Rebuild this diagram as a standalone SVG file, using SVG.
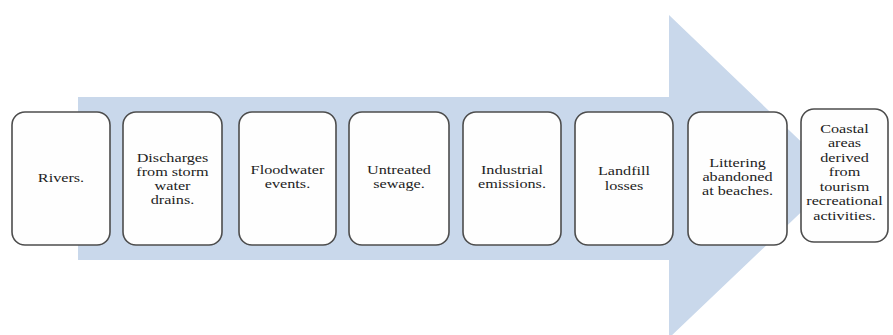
<svg xmlns="http://www.w3.org/2000/svg" width="893" height="335" viewBox="0 0 893 335">
<style>
.box{fill:#fefefe;stroke:#4d4d4d;stroke-width:1.6}
.t{font-family:'Liberation Serif','Times New Roman',serif;font-size:12px;fill:#222222;text-anchor:middle}
</style>
<rect width="893" height="335" fill="#ffffff"/>
<g id="arrow">
<polygon points="78,97 669,97 669,15 838,177 669,338 669,260 78,260" fill="#c9d8eb"/>
</g>
<g id="connectors"></g>
<g id="n1">
<rect class="box" x="12" y="112" width="98" height="133" rx="13"/>
<text class="t" transform="translate(61,0) scale(1.35,1)"><tspan x="0" y="182">Rivers.</tspan></text>
</g>
<g id="n2">
<rect class="box" x="123" y="112" width="99" height="133" rx="13"/>
<text class="t" transform="translate(172.5,0) scale(1.35,1)"><tspan x="0" y="162">Discharges</tspan><tspan x="0" y="176">from storm</tspan><tspan x="0" y="190">water</tspan><tspan x="0" y="204">drains.</tspan></text>
</g>
<g id="n3">
<rect class="box" x="239" y="112" width="97" height="133" rx="13"/>
<text class="t" transform="translate(287.5,0) scale(1.35,1)"><tspan x="0" y="174">Floodwater</tspan><tspan x="0" y="188">events.</tspan></text>
</g>
<g id="n4">
<rect class="box" x="349" y="112" width="100" height="133" rx="13"/>
<text class="t" transform="translate(399,0) scale(1.35,1)"><tspan x="0" y="174">Untreated</tspan><tspan x="0" y="188">sewage.</tspan></text>
</g>
<g id="n5">
<rect class="box" x="463" y="112" width="98" height="133" rx="13"/>
<text class="t" transform="translate(512,0) scale(1.35,1)"><tspan x="0" y="174">Industrial</tspan><tspan x="0" y="188">emissions.</tspan></text>
</g>
<g id="n6">
<rect class="box" x="575" y="112" width="98" height="133" rx="13"/>
<text class="t" transform="translate(624,0) scale(1.35,1)"><tspan x="0" y="175">Landfill</tspan><tspan x="0" y="190">losses</tspan></text>
</g>
<g id="n7">
<rect class="box" x="688" y="112" width="99" height="133" rx="13"/>
<text class="t" transform="translate(737.5,0) scale(1.35,1)"><tspan x="0" y="167">Littering</tspan><tspan x="0" y="181">abandoned</tspan><tspan x="0" y="195">at beaches.</tspan></text>
</g>
<g id="n8">
<rect class="box" x="801" y="109" width="87" height="133" rx="13"/>
<text class="t" transform="translate(844.5,0) scale(1.35,1)"><tspan x="0" y="133">Coastal</tspan><tspan x="0" y="147.5">areas</tspan><tspan x="0" y="162">derived</tspan><tspan x="0" y="176.5">from</tspan><tspan x="0" y="191">tourism</tspan><tspan x="0" y="205.5">recreational</tspan><tspan x="0" y="220">activities.</tspan></text>
</g>
</svg>
